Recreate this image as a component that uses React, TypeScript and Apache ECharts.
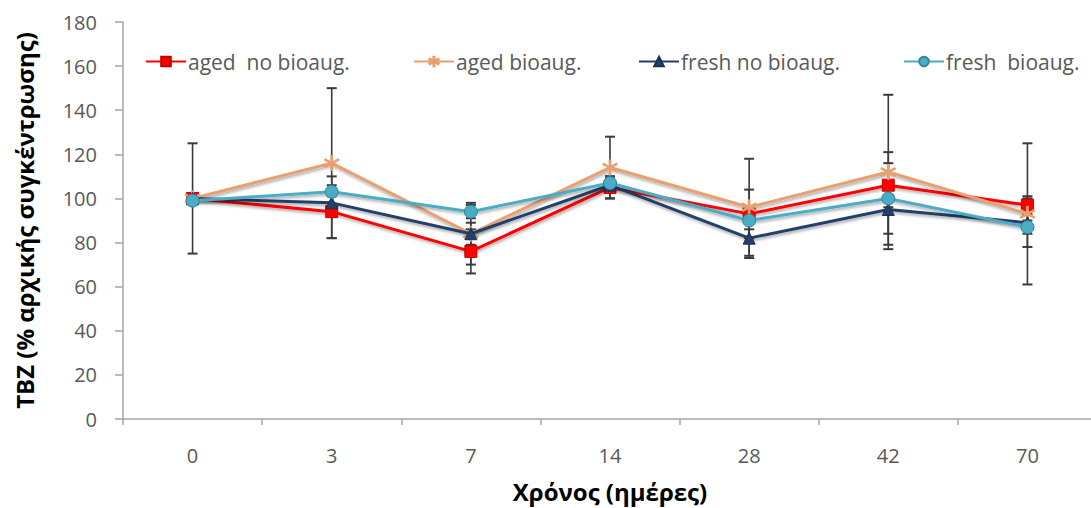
import React, { useEffect, useRef } from "react";
import * as echarts from "echarts";

const categories = ["0", "3", "7", "14", "28", "42", "70"];
const yTicks = [0, 20, 40, 60, 80, 100, 120, 140, 160, 180];

const agedNoBio = [100, 94, 76, 105, 93, 106, 97];
const agedBio = [100, 116, 84, 114, 96, 112, 93];
const freshNoBio = [100, 98, 84, 106, 82, 95, 89];
const freshBio = [99, 103, 94, 107, 90, 100, 87];

const agedNoBioErr = [2, 12, 10, 5, 11, 10, 4];
const agedBioErr = [25, 34, 14, 14, 22, 35, 32];
const freshNoBioErr = [2, 3, 5, 3, 9, 11, 11];
const freshBioErr = [2, 7, 3, 3, 4, 21, 3];

const names = ["aged  no bioaug.", "aged bioaug.", "fresh no bioaug.", "fresh  bioaug."];

const asterisk =
  "path://M9,0 L11,0 L11,7.3 L17.3,3.6 L18.3,5.4 L12,9 L18.3,12.6 L17.3,14.4 L11,10.7 L11,18 L9,18 L9,10.7 L2.7,14.4 L1.7,12.6 L8,9 L1.7,5.4 L2.7,3.6 L9,7.3 Z";

export default function App() {
  const ref = useRef<HTMLDivElement>(null);
  useEffect(() => {
    if (!ref.current) return;
    const chart = echarts.init(ref.current, null, { renderer: "svg" });
    const font = "'Open Sans', sans-serif";
    const shadow = {
      shadowColor: "rgba(0,0,0,0.35)",
      shadowBlur: 3,
      shadowOffsetY: 2,
      shadowOffsetX: 1,
    };
    const lineDefs = [
      { name: names[0], data: agedNoBio, err: agedNoBioErr, color: "#FF0000", symbol: "rect", size: 12, border: "#C00000" },
      { name: names[1], data: agedBio, err: agedBioErr, color: "#E9A071", symbol: asterisk, size: 15, border: "#E9A071" },
      { name: names[2], data: freshNoBio, err: freshNoBioErr, color: "#243F6B", symbol: "triangle", size: 12, border: "#1B3050" },
      { name: names[3], data: freshBio, err: freshBioErr, color: "#4BACC6", symbol: "circle", size: 13, border: "#31859C" },
    ];

    const errSeries = lineDefs.map((d) => ({
      type: "custom",
      name: d.name + "_err",
      z: 1,
      silent: true,
      data: d.data.map((v, i) => [i, v - d.err[i], v + d.err[i]]),
      renderItem: (params: any, api: any) => {
        const x = api.value(0);
        const lo = api.coord([x, api.value(1)]);
        const hi = api.coord([x, api.value(2)]);
        const half = 5;
        const style = { stroke: "#3A3A3A", lineWidth: 1.6 };
        return {
          type: "group",
          children: [
            { type: "line", shape: { x1: lo[0], y1: lo[1], x2: hi[0], y2: hi[1] }, style },
            { type: "line", shape: { x1: lo[0] - half, y1: lo[1], x2: lo[0] + half, y2: lo[1] }, style: { ...style, lineWidth: 2 } },
            { type: "line", shape: { x1: hi[0] - half, y1: hi[1], x2: hi[0] + half, y2: hi[1] }, style: { ...style, lineWidth: 2 } },
          ],
        };
      },
    }));

    const lineSeries = lineDefs.map((d, k) => ({
      type: "line",
      name: d.name,
      data: d.data,
      z: 2 + k,
      symbol: d.symbol,
      symbolSize: d.size,
      showAllSymbol: true,
      lineStyle: { color: d.color, width: 3, ...shadow },
      itemStyle: { color: d.color, borderColor: d.border, borderWidth: 1 },
    }));

    const legendLefts = [140, 408, 633, 898];
    const legends = lineDefs.map((d, k) => ({
      data: [d.name],
      left: legendLefts[k],
      top: 46,
      itemWidth: 40,
      itemHeight: 12,
      itemGap: 0,
      textStyle: { color: "#595959", fontSize: 21, fontFamily: font, padding: [0, 0, 0, -3] },
    }));

    chart.setOption({
      animation: false,
      backgroundColor: "#FFFFFF",
      legend: legends,
      grid: { left: 123, right: 3, top: 22, bottom: 83, containLabel: false },
      xAxis: {
        type: "category",
        data: categories,
        boundaryGap: true,
        name: "Χρόνος (ημέρες)",
        nameLocation: "middle",
        nameGap: 60,
        nameTextStyle: { color: "#000000", fontSize: 24, fontWeight: "bold", fontFamily: font },
        axisLine: { show: true, lineStyle: { color: "#A6A6A6", width: 1.5 } },
        axisTick: { show: true, length: 6, lineStyle: { color: "#A6A6A6", width: 1.5 } },
        axisLabel: { color: "#595959", fontSize: 20, fontFamily: font, margin: 26 },
        splitLine: { show: false },
      },
      yAxis: {
        type: "value",
        min: yTicks[0],
        max: yTicks[yTicks.length - 1],
        interval: yTicks[1] - yTicks[0],
        name: "TBZ (% αρχικής συγκέντρωσης)",
        nameLocation: "middle",
        nameGap: 87,
        nameTextStyle: { color: "#000000", fontSize: 24, fontWeight: "bold", fontFamily: font },
        axisLine: { show: true, lineStyle: { color: "#A6A6A6", width: 1.5 } },
        axisTick: { show: true, length: 8, lineStyle: { color: "#A6A6A6", width: 1.5 } },
        axisLabel: { color: "#595959", fontSize: 20, fontFamily: font, margin: 26 },
        splitLine: { show: false },
      },
      series: [...errSeries, ...lineSeries],
    });
    return () => chart.dispose();
  }, []);
  return (
    <div
      ref={ref}
      style={{ position: "fixed", left: 0, top: 0, width: 1100, height: 508, background: "#fff" }}
    />
  );
}
